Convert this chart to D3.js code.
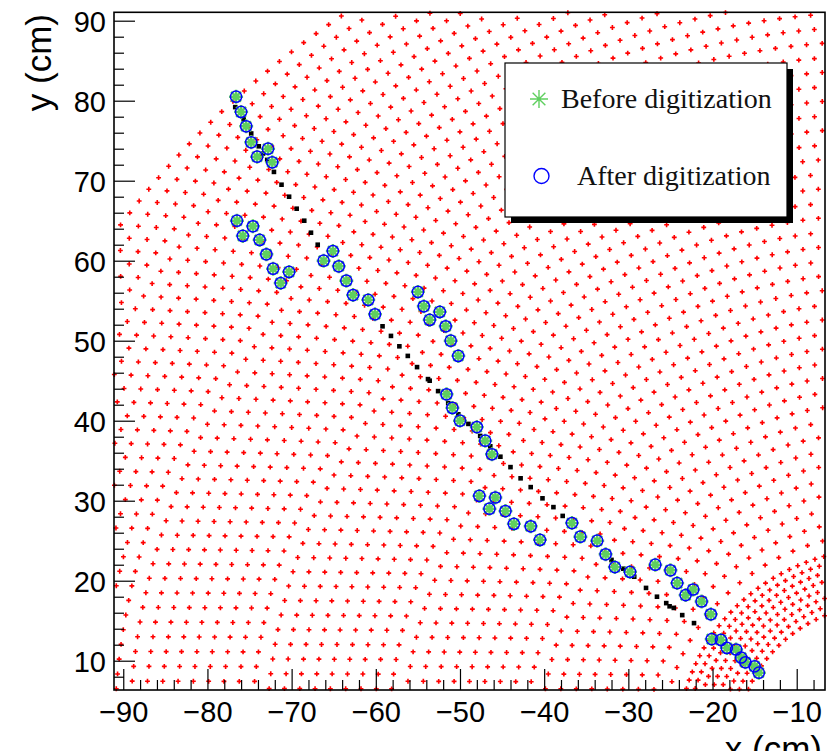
<!DOCTYPE html>
<html>
<head>
<meta charset="utf-8">
<script src="https://cdn.jsdelivr.net/npm/d3@7"></script>
<style>
body { margin: 0; background: #fff; }
svg { display: block; }
</style>
</head>
<body>
<div class="core_div"></div>
<script>

// Axis ranges (cm)
var xRange = [-91.1, -6.64];
var yRange = [6.34, 91.05];
var xTickValues = [-90, -80, -70, -60, -50, -40, -30, -20, -10];
var yTickValues = [10, 20, 30, 40, 50, 60, 70, 80, 90];

// Readout pad rows: inner and outer regions
var padRegions = ["inner", "outer"];
var rowStart = [17.0, 25.9];
var rowPitch = [1.0, 1.81];
var rowCount = [8, 48];
var padPitch = [1.1, 1.86];

// Simulated track steps (black squares)
var trueHitsX = [-76.7, -75.7, -74.8, -73.9, -73.4, -72.9, -72.1, -71.2, -70.3, -69.4, -68.5, -67.7, -66.9,
  -59.2, -58.2, -57.2, -56.2, -55.1, -53.8, -53.6, -52.6, -51.4, -50.2, -49.0, -47.6, -46.4, -45.2,
  -44.0, -42.8, -41.6, -40.2, -38.9, -37.8, -32.0, -30.6, -29.3, -27.9, -26.6, -25.5, -25.1, -24.6,
  -23.6, -22.2];
var trueHitsY = [79.2, 77.7, 75.9, 74.3, 73.4, 72.6, 71.1, 69.5, 68.0, 66.5, 65.0, 63.5, 62.0,
  51.8, 50.6, 49.3, 48.1, 46.7, 45.2, 45.0, 43.7, 42.2, 40.8, 39.6, 38.1, 36.8, 35.5,
  34.2, 32.8, 31.7, 30.3, 29.2, 28.1, 22.6, 21.5, 20.5, 19.1, 18.0, 17.2, 16.8, 16.6,
  15.7, 14.7];

// Hits before / after digitization (same places at this scale)
var digiHitsX = [-76.6, -76.0, -75.4, -74.8, -74.1, -72.8, -72.3,
  -76.5, -75.8, -74.6, -73.8, -73.0, -72.2, -71.3, -70.3,
  -66.2, -65.1, -64.4, -63.5, -62.7, -60.9, -60.1,
  -55.0, -54.3, -53.6, -52.4, -51.7, -51.1, -50.2,
  -51.6, -50.9, -50.0, -48.0, -47.0, -46.2,
  -47.7, -45.8, -46.5, -44.6, -43.6, -41.6, -40.5,
  -36.7, -35.7, -33.7, -32.7, -31.6, -29.8,
  -26.8, -25.0, -24.2, -23.2, -22.3, -21.3, -20.2,
  -20.1, -19.0, -18.3, -17.2, -16.6, -16.1, -15.0, -14.5];
var digiHitsY = [80.5, 78.6, 76.8, 74.8, 73.0, 74.0, 72.3,
  65.0, 63.1, 64.3, 62.6, 60.8, 59.0, 57.2, 58.6,
  60.0, 61.2, 59.3, 57.5, 55.7, 55.1, 53.3,
  56.1, 54.3, 52.6, 53.6, 51.8, 50.0, 48.1,
  43.3, 41.6, 40.0, 39.2, 37.5, 35.8,
  30.6, 30.4, 29.0, 28.7, 27.1, 26.8, 25.1,
  27.2, 25.5, 25.0, 23.3, 21.7, 21.1,
  22.0, 21.3, 19.7, 18.2, 18.9, 17.4, 15.8,
  12.7, 12.6, 11.6, 11.4, 10.4, 9.8, 9.3, 8.5];

var legendLabels = ["Before digitization", "After digitization"];

var width = 829, height = 751;
var frame = {left: 114, right: 825, top: 12.3, bottom: 690};

var x = d3.scaleLinear().domain(xRange).range([frame.left, frame.right]);
var y = d3.scaleLinear().domain(yRange).range([frame.bottom, frame.top]);

var svg = d3.select(".core_div").append("svg")
    .attr("width", width)
    .attr("height", height);

// pad centres of the readout plane
var pads = [];
padRegions.forEach(function(name, i) {
  for (var j = 0; j < rowCount[i]; j++) {
    var r = rowStart[i] + j * rowPitch[i];
    var n = Math.round(2 * Math.PI * r / padPitch[i]);
    for (var k = 0; k < n; k++) {
      var phi = 2 * Math.PI * (k + 0.5) / n;
      var px = r * Math.cos(phi), py = r * Math.sin(phi);
      if (px >= xRange[0] && px <= xRange[1] && py >= yRange[0] && py <= yRange[1]) pads.push([px, py]);
    }
  }
});

var cross = d3.symbol().type(d3.symbolCross).size(13);
svg.append("g").selectAll("path")
    .data(pads)
  .enter().append("path")
    .attr("d", cross)
    .attr("transform", function(d) { return "translate(" + x(d[0]) + "," + y(d[1]) + ")"; })
    .style("fill", "#ff0000");

// true hits
var trueHits = trueHitsX.map(function(v, i) { return [v, trueHitsY[i]]; });
svg.append("g").selectAll("rect")
    .data(trueHits)
  .enter().append("rect")
    .attr("x", function(d) { return x(d[0]) - 2.3; })
    .attr("y", function(d) { return y(d[1]) - 2.3; })
    .attr("width", 4.6)
    .attr("height", 4.6)
    .style("fill", "#000");

function asterisk(r) {
  var a = r * Math.SQRT1_2;
  return "M" + (-r) + ",0L" + r + ",0M0," + (-r) + "L0," + r +
         "M" + (-a) + "," + (-a) + "L" + a + "," + a +
         "M" + (-a) + "," + a + "L" + a + "," + (-a);
}

var digiHits = digiHitsX.map(function(v, i) { return [v, digiHitsY[i]]; });

svg.append("g").selectAll("path")
    .data(digiHits)
  .enter().append("path")
    .attr("d", asterisk(7))
    .attr("transform", function(d) { return "translate(" + x(d[0]) + "," + y(d[1]) + ")"; })
    .style("fill", "none")
    .style("stroke", "#5fcf5f")
    .style("stroke-width", 2.4);

svg.append("g").selectAll("circle")
    .data(digiHits)
  .enter().append("circle")
    .attr("cx", function(d) { return x(d[0]); })
    .attr("cy", function(d) { return y(d[1]); })
    .attr("r", 5.6)
    .style("fill", "none")
    .style("stroke", "#0000ff")
    .style("stroke-width", 1.5);

// ****************** axes ***************************
var xMinor = d3.range(-90, -6, 2).filter(function(v) { return v % 10 !== 0; });
var yMinor = d3.range(8, 91, 2).filter(function(v) { return v % 10 !== 0; });

var xAxis = svg.append("g")
    .attr("transform", "translate(0," + frame.bottom + ")")
    .call(d3.axisBottom(x).tickValues(xTickValues).tickSizeInner(-21).tickSizeOuter(0).tickFormat(d3.format("d")));
svg.append("g")
    .attr("transform", "translate(0," + frame.bottom + ")")
    .call(d3.axisBottom(x).tickValues(xMinor).tickSizeInner(-10).tickSizeOuter(0).tickFormat(""))
    .select(".domain").remove();

var yAxis = svg.append("g")
    .attr("transform", "translate(" + frame.left + ",0)")
    .call(d3.axisLeft(y).tickValues(yTickValues).tickSizeInner(-21).tickSizeOuter(0).tickFormat(d3.format("d")));
svg.append("g")
    .attr("transform", "translate(" + frame.left + ",0)")
    .call(d3.axisLeft(y).tickValues(yMinor).tickSizeInner(-10).tickSizeOuter(0).tickFormat(""))
    .select(".domain").remove();

xAxis.select(".domain").remove();
yAxis.select(".domain").remove();
svg.selectAll(".tick line").style("stroke", "#000").style("stroke-width", 1.2);

xAxis.selectAll("text")
    .attr("y", 32)
    .attr("dy", null)
    .style("font-family", "'Liberation Sans', Arial, sans-serif")
    .style("font-size", "29px")
    .style("fill", "#000");
yAxis.selectAll("text")
    .attr("x", -8)
    .attr("dy", "0.36em")
    .style("font-family", "'Liberation Sans', Arial, sans-serif")
    .style("font-size", "29px")
    .style("fill", "#000");

svg.append("rect")
    .attr("x", frame.left)
    .attr("y", frame.top)
    .attr("width", frame.right - frame.left)
    .attr("height", frame.bottom - frame.top)
    .style("fill", "none")
    .style("stroke", "#000")
    .style("stroke-width", 1.6);

svg.append("text")
    .attr("transform", "translate(51,14) rotate(-90)")
    .attr("text-anchor", "end")
    .style("font-family", "'Liberation Sans', Arial, sans-serif")
    .style("font-size", "35px")
    .text("y (cm)");

// the x title runs off the bottom edge, as in the original
svg.append("text")
    .attr("x", 822)
    .attr("y", 761)
    .attr("text-anchor", "end")
    .style("font-family", "'Liberation Sans', Arial, sans-serif")
    .style("font-size", "35px")
    .text("x (cm)");

// ****************** legend ***************************
var legend = svg.append("g").attr("transform", "translate(505,63)");
legend.append("rect")
    .attr("x", 6).attr("y", 6)
    .attr("width", 282).attr("height", 154)
    .style("fill", "#000");
legend.append("rect")
    .attr("width", 282).attr("height", 154)
    .style("fill", "#fff")
    .style("stroke", "#000")
    .style("stroke-width", 1.2);

legend.append("path")
    .attr("d", asterisk(9))
    .attr("transform", "translate(34,36)")
    .style("fill", "none")
    .style("stroke", "#5fcf5f")
    .style("stroke-width", 1.4);
legend.append("circle")
    .attr("cx", 36.5).attr("cy", 113)
    .attr("r", 7.5)
    .style("fill", "none")
    .style("stroke", "#0000ff")
    .style("stroke-width", 1.4);

legend.selectAll("text.lbl")
    .data(legendLabels)
  .enter().append("text")
    .attr("class", "lbl")
    .attr("x", function(d, i) { return i === 0 ? 56 : 72; })
    .attr("y", function(d, i) { return i === 0 ? 45 : 122; })
    .style("font-family", "'Liberation Serif', 'Times New Roman', serif")
    .style("font-size", "28px")
    .style("fill", "#111")
    .text(function(d) { return d; });

</script>
</body>
</html>
